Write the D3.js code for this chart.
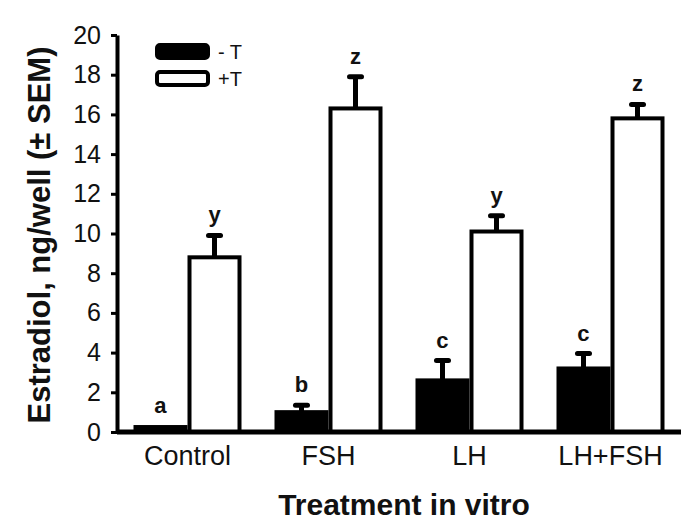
<!DOCTYPE html>
<html>
<head>
<meta charset="utf-8">
<script src="https://cdn.jsdelivr.net/npm/d3@7"></script>
<style>
  body { margin: 0; background: #fff; }
  svg text { font-family: "Liberation Sans", Arial, sans-serif; fill: #111; }
</style>
</head>
<body>
<svg id="chart" width="689" height="529"></svg>
<script>
var treatments = ["Control", "FSH", "LH", "LH+FSH"];
var seriesNames = ["- T", "+T"];
var minusT = [0.25, 1.0, 2.6, 3.2];
var minusTSem = [0.05, 0.35, 1.0, 0.75];
var plusT = [8.8, 16.3, 10.1, 15.8];
var plusTSem = [1.1, 1.6, 0.8, 0.7];
var minusTLetters = ["a", "b", "c", "c"];
var plusTLetters = ["y", "z", "y", "z"];
var yTicks = [0, 2, 4, 6, 8, 10, 12, 14, 16, 18, 20];

var svg = d3.select("#chart");
var plotLeft = 117, plotRight = 681, plotTop = 35, plotBottom = 432;

var x = d3.scaleBand().domain(treatments).range([plotLeft, plotRight])
  .paddingInner(0.234).paddingOuter(0.117);
var xSub = d3.scaleBand().domain(seriesNames).range([0, x.bandwidth()]);
var y = d3.scaleLinear().domain([0, 20]).range([plotBottom, plotTop]);

// rows for the bars
var rows = [];
treatments.forEach(function(t, i) {
  rows.push({group: t, series: seriesNames[0], value: minusT[i], sem: minusTSem[i], letter: minusTLetters[i]});
  rows.push({group: t, series: seriesNames[1], value: plusT[i], sem: plusTSem[i], letter: plusTLetters[i]});
});
function cx(d) { return x(d.group) + xSub(d.series) + xSub.bandwidth() / 2; }

// bars
svg.selectAll(".bar")
  .data(rows)
  .enter().append("rect")
    .attr("class", "bar")
    .attr("x", function(d) { return x(d.group) + xSub(d.series) + 2; })
    .attr("y", function(d) { return y(d.value); })
    .attr("width", xSub.bandwidth() - 4)
    .attr("height", function(d) { return plotBottom - y(d.value); })
    .attr("fill", function(d) { return d.series === seriesNames[0] ? "#000" : "#fff"; })
    .attr("stroke", "#000")
    .attr("stroke-width", 4);

// error bars, upper only
var withErr = rows.filter(function(d) { return d.sem > 0.1; });
svg.selectAll(".err")
  .data(withErr)
  .enter().append("line")
    .attr("class", "err")
    .attr("x1", cx).attr("x2", cx)
    .attr("y1", function(d) { return y(d.value); })
    .attr("y2", function(d) { return y(d.value + d.sem); })
    .attr("stroke", "#000")
    .attr("stroke-width", 5);
svg.selectAll(".cap")
  .data(withErr)
  .enter().append("line")
    .attr("class", "cap")
    .attr("x1", function(d) { return cx(d) - 6; })
    .attr("x2", function(d) { return cx(d) + 6; })
    .attr("y1", function(d) { return y(d.value + d.sem); })
    .attr("y2", function(d) { return y(d.value + d.sem); })
    .attr("stroke", "#000")
    .attr("stroke-width", 5)
    .attr("stroke-linecap", "round");

// significance letters
svg.selectAll(".letter")
  .data(rows)
  .enter().append("text")
    .attr("class", "letter")
    .attr("x", cx)
    .attr("y", function(d) { return y(d.value + d.sem) - 13; })
    .attr("text-anchor", "middle")
    .attr("font-size", 22)
    .attr("font-weight", "bold")
    .text(function(d) { return d.letter; });

// y axis
var yAxis = svg.append("g")
  .attr("transform", "translate(" + plotLeft + ",0)")
  .call(d3.axisLeft(y).tickValues(yTicks).tickSize(6).tickSizeOuter(0).tickPadding(10));
yAxis.select(".domain").attr("stroke", "#000").attr("stroke-width", 4);
yAxis.selectAll(".tick line").attr("stroke", "#000").attr("stroke-width", 3);
yAxis.selectAll(".tick text")
  .attr("font-size", 25)
  .attr("font-family", "'Liberation Sans', Arial, sans-serif")
  .attr("fill", "#111");

// x axis
var xAxis = svg.append("g")
  .attr("transform", "translate(0," + plotBottom + ")")
  .call(d3.axisBottom(x).tickSize(0).tickPadding(14));
xAxis.select(".domain").attr("stroke", "#000").attr("stroke-width", 5)
  .attr("d", "M" + plotLeft + ",0H" + plotRight);
xAxis.selectAll(".tick text")
  .attr("font-size", 27)
  .attr("font-family", "'Liberation Sans', Arial, sans-serif")
  .attr("fill", "#111");

// titles
svg.append("text")
  .attr("x", 404).attr("y", 515)
  .attr("text-anchor", "middle")
  .attr("font-size", 30)
  .attr("font-weight", "bold")
  .text("Treatment in vitro");
svg.append("text")
  .attr("transform", "translate(50,235) rotate(-90)")
  .attr("text-anchor", "middle")
  .attr("font-size", 31)
  .attr("font-weight", "bold")
  .text("Estradiol, ng/well (\u00b1 SEM)");

// legend
var legend = svg.selectAll(".legend")
  .data(seriesNames)
  .enter().append("g")
    .attr("class", "legend")
    .attr("transform", function(d, i) { return "translate(155," + (43 + i * 27) + ")"; });
legend.append("rect")
  .attr("x", 2).attr("y", 2)
  .attr("width", 51).attr("height", 13)
  .attr("rx", 3)
  .attr("fill", function(d, i) { return i === 0 ? "#000" : "#fff"; })
  .attr("stroke", "#000")
  .attr("stroke-width", 4);
legend.append("text")
  .attr("x", 63).attr("y", 16)
  .attr("font-size", 20)
  .text(function(d) { return d; });
</script>
</body>
</html>
